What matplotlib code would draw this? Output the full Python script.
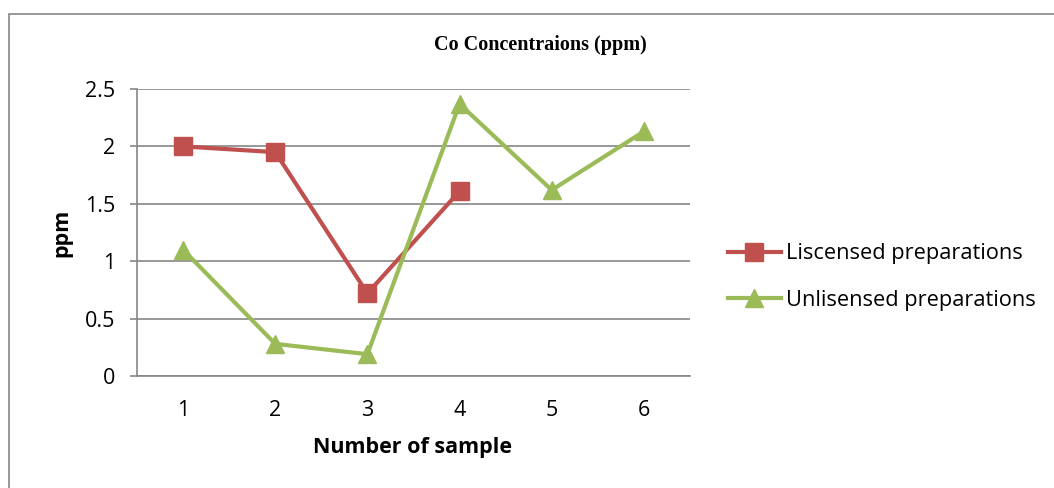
import numpy as np
import matplotlib
matplotlib.use("Agg")
import matplotlib.pyplot as plt
from matplotlib.patches import Rectangle

samples = [1, 2, 3, 4, 5, 6]
licensed = [2.0, 1.95, 0.72, 1.61, np.nan, np.nan]
unlicensed = [1.1, 0.28, 0.19, 2.37, 1.62, 2.13]
y_ticks = [0, 0.5, 1, 1.5, 2, 2.5]
y_tick_labels = ["0", "0.5", "1", "1.5", "2", "2.5"]

RED = "#C0504D"
GREEN = "#9BBB59"
GRID = "#868686"

plt.rcParams['font.family'] = ['Open Sans', 'DejaVu Sans']

fig = plt.figure(figsize=(10.54, 4.88), dpi=100)
ax = fig.add_axes([0.13, 0.2295, 0.5246, 0.5881])

# outer chart border (cut off at right and bottom)
fig.patches.append(Rectangle((9 / 1054, -0.1), 1.2, 1 - 14 / 488 + 0.1,
                             transform=fig.transFigure, fill=False,
                             edgecolor=GRID, linewidth=1.2))

ax.plot(samples, licensed, color=RED, linewidth=3, marker="s", markersize=12.5,
        label="Liscensed preparations")
ax.plot(samples, unlicensed, color=GREEN, linewidth=3, marker="^", markersize=13,
        label="Unlisensed preparations")

ax.set_xlim(0.5, 6.5)
ax.set_ylim(0, 2.5)
ax.set_xticks(samples)
ax.set_yticks(y_ticks)
ax.set_yticklabels(y_tick_labels)
ax.tick_params(axis="x", length=0, labelsize=15.5, pad=17)
ax.tick_params(axis="y", length=5, color=GRID, width=1.2, labelsize=15.5, pad=11)
ax.grid(axis="y", color=GRID, linewidth=1.2)
ax.set_axisbelow(True)
for side in ["top", "right"]:
    ax.spines[side].set_visible(False)
for side in ["left", "bottom"]:
    ax.spines[side].set_color(GRID)
    ax.spines[side].set_linewidth(1.2)

ax.set_xlabel("Number of sample", fontsize=15.5, fontweight="bold", va="center")
ax.xaxis.set_label_coords((413 - 137) / 553, (376 - 447) / 287)
ax.set_ylabel("ppm", fontsize=15.5, fontweight="bold", va="center")
ax.yaxis.set_label_coords((62 - 137) / 553, 0.5)
fig.text(540 / 1054, 1 - 45 / 488, "Co Concentraions (ppm)", ha="center", va="center",
         fontsize=14.5, fontweight="bold", family="Liberation Serif")

fig.legend(loc="center left", bbox_to_anchor=(719 / 1054, 1 - 277 / 488), frameon=False,
           borderaxespad=0, fontsize=15.7, handlelength=2.45, handletextpad=0.2,
           labelspacing=1.15)

fig.savefig("out.png", dpi=100)
